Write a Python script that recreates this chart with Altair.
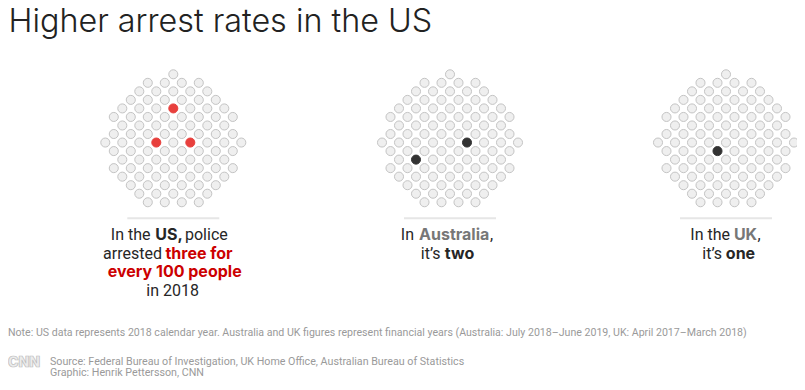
import altair as alt
import pandas as pd

# ---------------- data ----------------
countries = ["US", "Australia", "UK"]
arrests_per_100 = [3, 2, 1]
# which cells of each 100-dot grid are highlighted (row, column)
highlight_cells = {
    "US": [(4, 8), (8, 6), (8, 10)],
    "Australia": [(8, 10), (10, 4)],
    "UK": [(9, 7)],
}
# shape of the 100-dot grid: first column index and dot count of each row
row_starts = [8, 5, 4, 3, 2, 1, 2, 1, 0, 1, 2, 1, 2, 3, 4, 5]
row_counts = [1, 4, 5, 6, 7, 8, 7, 8, 9, 8, 7, 8, 7, 6, 5, 4]

title_text = "Higher arrest rates in the US"
note_text = ("Note: US data represents 2018 calendar year. Australia and UK figures represent "
             "financial years (Australia: July 2018\u2013June 2019, UK: April 2017\u2013March 2018)")
source_lines = ["Source: Federal Bureau of Investigation, UK Home Office, Australian Bureau of Statistics",
                "Graphic: Henrik Pettersson, CNN"]

# ---------------- layout / style ----------------
W, H = 789, 374
grid_cx = {"US": 173.3, "Australia": 450.0, "UK": 726.0}
grid_top = 74.3
step_x, step_y = 8.5, 8.53
hi_fill = {"US": "#e8403d", "Australia": "#333333", "UK": "#333333"}
DARK = "#262626"
RED = "#cc0000"
GREY = "#777777"
FOOT = "#9a9a9a"

rows = []
for c in countries:
    hl = set(highlight_cells[c])
    for r, (s, n) in enumerate(zip(row_starts, row_counts)):
        for i in range(n):
            k = s + 2 * i
            on = (r, k) in hl
            rows.append({
                "country": c,
                "px": grid_cx[c] + (k - 8) * step_x,
                "py": grid_top + r * step_y,
                "fill": hi_fill[c] if on else "#efefef",
                "stroke": hi_fill[c] if on else "#c4c4c4",
            })
dots = pd.DataFrame(rows)

xs = alt.Scale(domain=[8, 8 + W], nice=False, zero=False)
ys = alt.Scale(domain=[8, 8 + H], nice=False, zero=False, reverse=True)

dot_layer = alt.Chart(dots).mark_circle(size=82, strokeWidth=1, opacity=1).encode(
    x=alt.X("px:Q", scale=xs, axis=None),
    y=alt.Y("py:Q", scale=ys, axis=None),
    color=alt.Color("fill:N", scale=None),
    stroke=alt.Stroke("stroke:N", scale=None),
)

seps = pd.DataFrame({
    "x1": [grid_cx[c] - 46 for c in countries],
    "x2": [grid_cx[c] + 46 for c in countries],
    "y": [218.3] * 3,
})
sep_layer = alt.Chart(seps).mark_rule(color="#e6e6e6", strokeWidth=2).encode(
    x=alt.X("x1:Q", scale=xs, axis=None), x2="x2:Q",
    y=alt.Y("y:Q", scale=ys, axis=None),
)

# text runs: text, x, baseline y, font, weight, colour, align, size
runs = [
    # US
    ("In the", 150.5, 240, "Roboto", "normal", DARK, "right", 16),
    ("US,", 169, 240, "Inter", "bold", DARK, "center", 16),
    ("police", 185, 240, "Roboto", "normal", DARK, "left", 16),
    ("arrested", 162, 258.5, "Roboto", "normal", DARK, "right", 16),
    ("three for", 199, 258.5, "Inter", "bold", RED, "center", 16),
    ("every 100 people", 174.7, 277, "Inter", "bold", RED, "center", 16),
    ("in 2018", 172.7, 296, "Roboto", "normal", DARK, "center", 16),
    # Australia
    ("In", 414, 239.5, "Roboto", "normal", DARK, "right", 16),
    ("Australia", 454.2, 239.5, "Inter", "bold", GREY, "center", 16),
    (",", 490, 239.5, "Roboto", "normal", DARK, "left", 16),
    ("it\u2019s", 440.5, 258.5, "Roboto", "normal", DARK, "right", 16),
    ("two", 459.5, 258.5, "Inter", "bold", DARK, "center", 16),
    # UK
    ("In the", 730, 239.5, "Roboto", "normal", DARK, "right", 16),
    ("UK", 745.5, 239.5, "Inter", "bold", GREY, "center", 16),
    (",", 757.5, 239.5, "Roboto", "normal", DARK, "left", 16),
    ("it\u2019s", 722, 258.5, "Roboto", "normal", DARK, "right", 16),
    ("one", 740.5, 258.5, "Inter", "bold", DARK, "center", 16),
    # title, note, source
    (title_text, 8.5, 31.5, "Inter", "300", "#222222", "left", 32.3),
    (note_text, 8, 336, "Roboto", "normal", FOOT, "left", 10.6),
    (source_lines[0], 50, 364.5, "Roboto", "normal", FOOT, "left", 10.7),
    (source_lines[1], 50, 376, "Roboto", "normal", FOOT, "left", 10.7),
]
tdf = pd.DataFrame(runs, columns=["text", "px", "py", "font", "weight", "color", "align", "size"])

text_layers = []
for (f, w, a, s), sub in tdf.groupby(["font", "weight", "align", "size"]):
    text_layers.append(
        alt.Chart(sub).mark_text(font=f, fontWeight=w if w in ("normal", "bold") else int(w),
                                 align=a, baseline="alphabetic", fontSize=float(s)).encode(
            x=alt.X("px:Q", scale=xs, axis=None),
            y=alt.Y("py:Q", scale=ys, axis=None),
            text="text:N",
            color=alt.Color("color:N", scale=None),
        )
    )

logo = pd.DataFrame({"text": ["CNN"], "px": [8], "py": [366.5]})
logo_layer = alt.Chart(logo).mark_text(
    font="Inter", fontWeight=900, fontSize=14, align="left", baseline="alphabetic",
    fill="#ececec", stroke="#bdbdbd", strokeWidth=0.7,
).encode(
    x=alt.X("px:Q", scale=xs, axis=None),
    y=alt.Y("py:Q", scale=ys, axis=None),
    text="text:N",
)

chart = alt.layer(sep_layer, dot_layer, *text_layers, logo_layer).properties(
    width=W, height=H, padding=0, autosize=alt.AutoSizeParams(type="none"),
    background="white",
).configure_view(strokeWidth=0)

chart.save("out.html", embed_options={"renderer": "svg", "actions": False})
